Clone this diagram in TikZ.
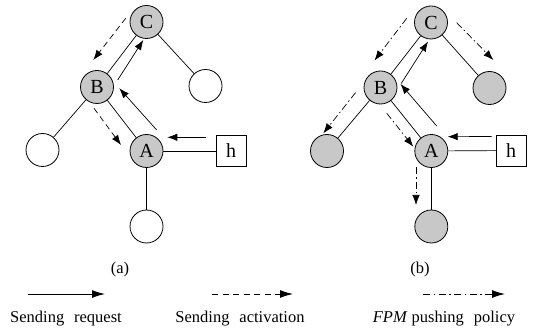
\documentclass[tikz,border=0pt]{standalone}
\usepackage{fontspec}
\setmainfont{Liberation Serif}
\usetikzlibrary{arrows.meta,calc}
\definecolor{nodegray}{RGB}{200,200,200}
\begin{document}
\begin{tikzpicture}[x=1pt,y=-1pt,
  vnode/.style={circle,draw,line width=0.8pt,minimum size=33pt,inner sep=0pt,font=\fontsize{20}{20}\selectfont},
  gnode/.style={vnode,fill=nodegray},
  wnode/.style={vnode,fill=white},
  hbox/.style={draw,line width=0.8pt,minimum width=30pt,minimum height=31pt,inner sep=0pt,font=\fontsize{20}{20}\selectfont},
  edge/.style={line width=0.7pt},
  req/.style={line width=0.7pt,-{Latex[length=10pt,width=7.5pt]}},
  act/.style={req,dash pattern=on 6pt off 4pt},
  fpm/.style={req,dash pattern=on 7pt off 3pt on 1.5pt off 3pt},
  lreq/.style={line width=1pt,-{Latex[length=13pt,width=8pt]}},
  lact/.style={lreq,dash pattern=on 6pt off 4.5pt},
  lfpm/.style={lreq,dash pattern=on 7pt off 3.5pt on 1.5pt off 3.5pt},
  lbl/.style={anchor=base,font=\fontsize{16.5}{16.5}\selectfont,inner sep=0pt}
]
\useasboundingbox (0,0) rectangle (537,328);

% ---------- panel (a) ----------
\node[gnode] (Ca) at (146.5,22) {C};
\node[gnode] (Ba) at (97,87) {B};
\node[gnode] (Aa) at (146.5,151) {A};
\node[wnode] (La) at (42.5,150) {};
\node[wnode] (Ra) at (205.5,86) {};
\node[wnode] (Da) at (146.5,226.5) {};
\node[hbox] (Ha) at (231,151) {h};
\draw[edge] (Ca) -- (Ba);
\draw[edge] (Ca) -- (Ra);
\draw[edge] (Ba) -- (La);
\draw[edge] (Ba) -- (Aa);
\draw[edge] (Aa) -- (Ha);
\draw[edge] (Aa) -- (Da);
\draw[act] ($(Ca)+(-20.8,-3.7)$) -- ($(Ba)+(-3.7,-27)$);
\draw[req] ($(Ba)+(20.7,-7)$) -- ($(Ca)+(-3.2,18)$);
\draw[req] ($(Aa)+(10.2,-21)$) -- ($(Ba)+(22.3,1.3)$);
\draw[act] ($(Ba)+(-3,21.3)$) -- ($(Aa)+(-25.5,-6)$);
\draw[req] ($(Ha)+(-25,-13.7)$) -- ($(Aa)+(20.8,-13.7)$);
\node[lbl] (capa) at (120,273) {(a)};

% ---------- panel (b) ----------
\node[gnode] (Cb) at (431,22.5) {C};
\node[gnode] (Bb) at (380.5,87.5) {B};
\node[gnode] (Ab) at (431.3,151) {A};
\node[gnode] (Lb) at (327,151) {};
\node[gnode] (Rb) at (489.5,88) {};
\node[gnode] (Db) at (431.3,226.5) {};
\node[hbox] (Hb) at (511,150.5) {h};
\draw[edge] (Cb) -- (Bb);
\draw[edge] (Cb) -- (Rb);
\draw[edge] (Bb) -- (Lb);
\draw[edge] (Bb) -- (Ab);
\draw[edge] (Ab) -- (Hb);
\draw[edge] (Ab) -- (Db);
\draw[fpm] ($(Cb)+(-24.3,-4.2)$) -- ($(Bb)+(-6,-27)$);
\draw[fpm] ($(Cb)+(25.7,0.2)$) -- ($(Rb)+(3.8,-28)$);
\draw[req] ($(Bb)+(20.7,-4)$) -- ($(Cb)+(-3,19)$);
\draw[req] ($(Ab)+(5.4,-25)$) -- ($(Bb)+(20,-3.5)$);
\draw[fpm] ($(Bb)+(-25,5.2)$) -- ($(Lb)+(-3.7,-17.7)$);
\draw[fpm] ($(Bb)+(6.3,25.8)$) -- ($(Ab)+(-18,-4.3)$);
\draw[fpm] ($(Ab)+(-15.3,16.3)$) -- ($(Db)+(-15.3,-21.5)$);
\draw[req] ($(Hb)+(-19.5,-14)$) -- ($(Ab)+(16.4,-14.3)$);
\node[lbl] (capb) at (420,273) {(b)};

% ---------- legend ----------
\coordinate (s1) at (28,294);
\coordinate (e1) at (105,294);
\coordinate (s2) at (212,294);
\coordinate (e2) at (293,294);
\coordinate (s3) at (423,294);
\coordinate (e3) at (505,294);
\draw[lreq] (s1) -- (e1);
\draw[lact] (s2) -- (e2);
\draw[lfpm] (s3) -- (e3);
\node[lbl] (t1) at (66,322) {Sending\hspace{0.6em}request};
\node[lbl] (t2) at (240,322) {Sending\hspace{0.6em}activation};
\node[lbl] (t3) at (444,322) {\textit{FPM} pushing\hspace{0.6em}policy};
\end{tikzpicture}
\end{document}
